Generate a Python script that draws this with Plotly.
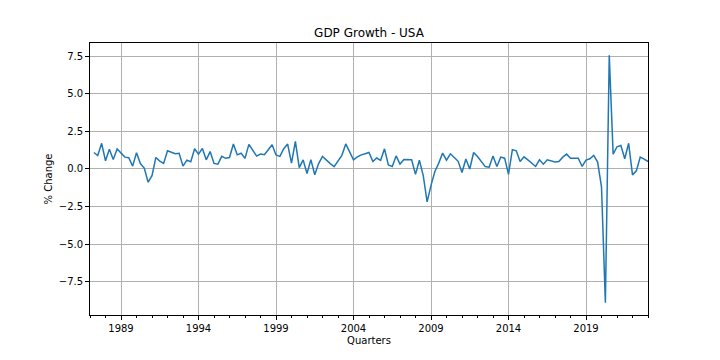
import numpy as np
import pandas as pd
import plotly.graph_objects as go

# Quarterly index (first quarter has no growth value: pct_change)
quarters = [str(p) for p in pd.period_range("1987Q1", "2023Q1", freq="Q")]

gdp_growth = [
    np.nan,
    1.09, 0.89, 1.70,
    0.54, 1.30, 0.62, 1.32,
    1.05, 0.78, 0.74, 0.18,
    1.07, 0.35, 0.05, -0.89,
    -0.45, 0.76, 0.52, 0.36,
    1.20, 1.08, 1.00, 1.03,
    0.18, 0.58, 0.48, 1.34,
    0.97, 1.36, 0.60, 1.15,
    0.36, 0.31, 0.83, 0.70,
    0.75, 1.65, 0.93, 1.04,
    0.70, 1.63, 1.25, 0.85,
    0.98, 0.94, 1.27, 1.60,
    0.92, 0.83, 1.34, 1.65,
    0.38, 1.83, 0.08, 0.60,
    -0.31, 0.61, -0.39, 0.35,
    0.83, 0.56, 0.35, 0.15,
    0.52, 0.90, 1.66, 1.08,
    0.60, 0.80, 0.93, 1.00,
    1.09, 0.49, 0.72, 0.57,
    1.33, 0.26, 0.16, 0.86,
    0.32, 0.62, 0.61, 0.60,
    -0.37, 0.57, -0.45, -2.20,
    -1.10, -0.18, 0.38, 1.05,
    0.58, 1.00, 0.76, 0.50,
    -0.24, 0.66, -0.01, 1.09,
    0.82, 0.48, 0.15, 0.11,
    0.86, 0.16, 0.78, 0.71,
    -0.36, 1.28, 1.20, 0.49,
    0.80, 0.60, 0.38, 0.16,
    0.60, 0.31, 0.60, 0.54,
    0.45, 0.49, 0.78, 0.98,
    0.71, 0.71, 0.71, 0.16,
    0.58, 0.67, 0.89, 0.45,
    -1.20, -8.90, 7.55, 0.98,
    1.47, 1.56, 0.67, 1.70,
    -0.40, -0.13, 0.78, 0.65,
    0.49,
]

major_years = [1989, 1994, 1999, 2004, 2009, 2014, 2019]
minor_years = list(range(1987, 2024))
y_ticks = [-7.5, -5.0, -2.5, 0.0, 2.5, 5.0, 7.5]

# numeric position of each quarter (year + fraction)
xpos = [int(q[:4]) + (int(q[-1]) - 1) / 4 for q in quarters]

vals = np.array(gdp_growth, dtype=float)
vmin, vmax = np.nanmin(vals), np.nanmax(vals)
pad = 0.05 * (vmax - vmin)

fig = go.Figure()
fig.add_trace(go.Scatter(
    x=xpos, y=gdp_growth, mode="lines",
    line=dict(color="#1f77b4", width=1.5),
    connectgaps=False, showlegend=False,
))

font = dict(family="DejaVu Sans, Arial, sans-serif", color="black")

fig.update_layout(
    width=720, height=360,
    margin=dict(l=82, r=80, t=35, b=53),
    paper_bgcolor="white", plot_bgcolor="white",
    font=dict(size=10, **font),
    title=dict(text="GDP Growth - USA", x=0.5, xref="paper",
               y=1 - 25 / 360, yref="container", yanchor="middle",
               font=dict(size=12, **font)),
)

fig.update_xaxes(
    range=[xpos[0], xpos[-1]],
    tickmode="array", tickvals=major_years, ticktext=[str(y) for y in major_years],
    ticks="outside", ticklen=4, tickwidth=0.8, tickcolor="black",
    showgrid=True, gridcolor="#b0b0b0", gridwidth=0.8,
    showline=True, linecolor="black", linewidth=0.8, mirror=True,
    zeroline=False,
    minor=dict(tickmode="array", tickvals=minor_years, ticks="outside",
               ticklen=2, tickwidth=0.6, tickcolor="black", showgrid=False),
    title=dict(text="Quarters", font=dict(size=10, **font), standoff=4),
    tickfont=dict(size=10, **font),
)

fig.update_yaxes(
    range=[vmin - pad, vmax + pad],
    tickmode="array", tickvals=y_ticks, tickformat=".1f",
    ticks="outside", ticklen=4, tickwidth=0.8, tickcolor="black",
    showgrid=True, gridcolor="#b0b0b0", gridwidth=0.8,
    showline=True, linecolor="black", linewidth=0.8, mirror=True,
    zeroline=False,
    title=dict(text="% Change", font=dict(size=10, **font), standoff=4),
    tickfont=dict(size=10, **font),
)

fig.write_html("out.html")
